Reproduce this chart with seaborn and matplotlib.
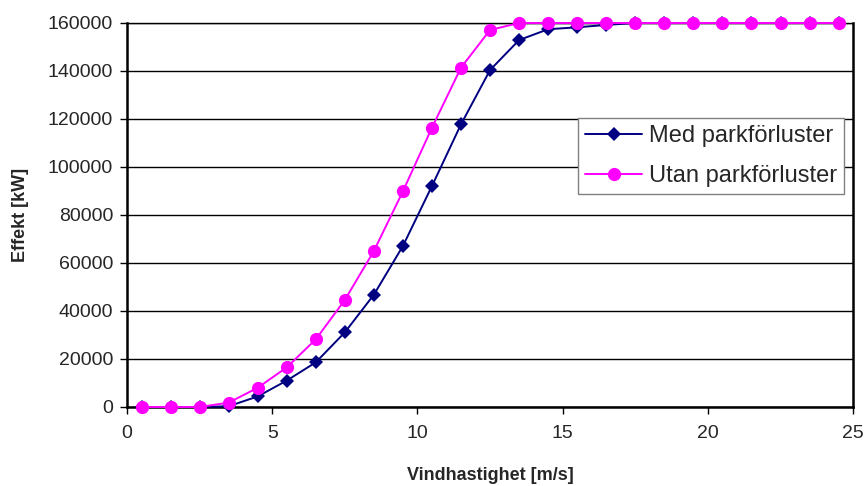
import numpy as np
import pandas as pd
import matplotlib
matplotlib.use("Agg")
import matplotlib.pyplot as plt
import seaborn as sns

# Wind speed bins (m/s) and park power output (kW)
vind = [0.5, 1.5, 2.5, 3.5, 4.5, 5.5, 6.5, 7.5, 8.5, 9.5, 10.5, 11.5, 12.5,
        13.5, 14.5, 15.5, 16.5, 17.5, 18.5, 19.5, 20.5, 21.5, 22.5, 23.5, 24.5]
med_parkforluster = [0, 0, 0, 300, 4400, 11000, 18600, 31100, 46800, 67100,
                     92100, 117800, 140400, 152900, 157400, 158200, 159200,
                     160000, 160000, 160000, 160000, 160000, 160000, 160000, 160000]
utan_parkforluster = [0, 0, 0, 1800, 8000, 16500, 28200, 44600, 65000, 89900,
                      116400, 141400, 157100, 160000, 160000, 160000, 160000,
                      160000, 160000, 160000, 160000, 160000, 160000, 160000, 160000]
serier = ["Med parkförluster", "Utan parkförluster"]
x_ticks = [0, 5, 10, 15, 20, 25]
y_ticks = [0, 20000, 40000, 60000, 80000, 100000, 120000, 140000, 160000]

df = pd.DataFrame({
    "Vindhastighet": vind * 2,
    "Effekt": med_parkforluster + utan_parkforluster,
    "Serie": [serier[0]] * len(vind) + [serier[1]] * len(vind),
})

sns.set_style("white")
plt.rcParams["font.family"] = ["Liberation Sans", "DejaVu Sans"]

fig = plt.figure(figsize=(8.67, 4.86), dpi=100)
ax = fig.add_axes([0.1465, 0.1626, 0.8375, 0.7901])

sns.lineplot(data=df[df["Serie"] == serier[0]], x="Vindhastighet", y="Effekt",
             color="#000080", marker="D", markersize=7.5, markeredgewidth=0,
             linewidth=1.4, label=serier[0], ax=ax, zorder=3, clip_on=False)
sns.lineplot(data=df[df["Serie"] == serier[1]], x="Vindhastighet", y="Effekt",
             color="#FF00FF", marker="o", markersize=9.5, markeredgewidth=0,
             linewidth=1.4, label=serier[1], ax=ax, zorder=4, clip_on=False)

ax.set_xlim(0, 25)
ax.set_ylim(0, 160000)
ax.set_xticks(x_ticks)
ax.set_yticks(y_ticks)
ax.set_xticklabels([str(t) for t in x_ticks])
ax.set_yticklabels([str(t) for t in y_ticks])
ax.tick_params(axis="both", labelsize=14, length=5, width=1, color="black",
               direction="out", left=True, bottom=True)
ax.tick_params(axis="y", pad=5)
ax.tick_params(axis="x", pad=8)

ax.yaxis.grid(True, color="black", linewidth=1)
ax.xaxis.grid(False)
for side in ["left", "bottom", "right", "top"]:
    ax.spines[side].set_visible(True)
    ax.spines[side].set_color("black")
ax.spines["left"].set_linewidth(1.8)
ax.spines["bottom"].set_linewidth(1.8)
ax.spines["right"].set_linewidth(1.8)
ax.spines["top"].set_linewidth(1.0)

ax.set_xlabel("Vindhastighet [m/s]", fontsize=13, fontweight="bold")
ax.set_ylabel("Effekt [kW]", fontsize=13, fontweight="bold")
ax.xaxis.set_label_coords(0.5, -0.157)
ax.yaxis.set_label_coords(-0.147, 0.5)
ax.xaxis.label.set_verticalalignment("top")
ax.yaxis.label.set_verticalalignment("center")

leg = ax.legend(loc="upper left", bbox_to_anchor=(0.667, 0.757),
                bbox_transform=fig.transFigure, fontsize=17, frameon=True,
                fancybox=False, edgecolor="#808080", framealpha=1,
                handlelength=2.4, borderpad=0.3, labelspacing=0.75,
                handletextpad=0.3, borderaxespad=0)
leg.get_frame().set_linewidth(1.0)

fig.savefig("out.png", dpi=100)
